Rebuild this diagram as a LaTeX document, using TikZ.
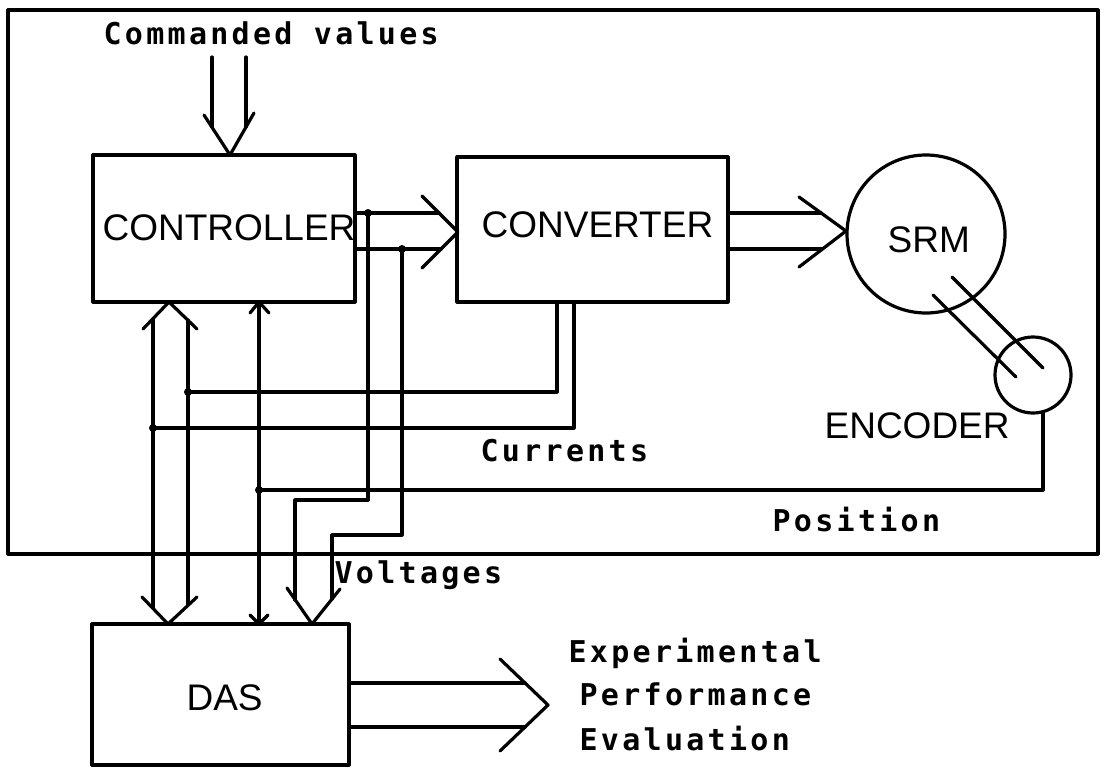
\documentclass[tikz,border=0pt]{standalone}
\usepackage{fontspec}
\newfontfamily\lblfont[LetterSpace=11]{DejaVu Sans Mono}
\newfontfamily\boxfont{Liberation Sans}
\begin{document}
\begin{tikzpicture}[x=1pt,y=-1pt, line width=3.2pt, line cap=round, line join=round,
  box/.style={draw, rectangle, inner sep=0pt, line width=3.2pt},
  ring/.style={draw, circle, inner sep=0pt, line width=3.2pt},
  boxlabel/.style={anchor=base west, inner sep=0pt, font={\boxfont\fontsize{37}{40}\selectfont}},
  sig/.style={anchor=base west, inner sep=0pt, font={\lblfont\bfseries\fontsize{30}{36}\selectfont}},
  wire/.style={line width=3.2pt},
  head/.style={line width=3.2pt},
  junction/.style={circle, fill, inner sep=0pt, minimum size=8pt}]
\fill[white] (0,0) rectangle (1105,768);
\useasboundingbox (0,0) rectangle (1105,768);

% blocks
\node[box, minimum width=1090pt, minimum height=544pt] (frame) at (553,282) {};
\node[box, minimum width=262pt, minimum height=147pt] (ctl) at (224,228.5) {};
\node[box, minimum width=271pt, minimum height=145pt] (cnv) at (592.5,229.5) {};
\node[box, minimum width=257pt, minimum height=141pt] (das) at (220.5,694.5) {};
\node[ring, minimum size=158pt] (srm) at (926,234) {};
\node[ring, minimum size=76pt] (enc) at (1033,375) {};

% labels
\node[boxlabel] (lctl) at (101,240) {CONTROLLER};
\node[boxlabel] (lcnv) at (480,237) {CONVERTER};
\node[boxlabel] (lsrm) at (886,252) {SRM};
\node[boxlabel] (lenc) at (823,438) {ENCODER};
\node[boxlabel] (ldas) at (185,710) {DAS};
\node[sig] (lcmd) at (102,45) {Commanded values};
\node[sig] (lcur) at (479,461) {Currents};
\node[sig] (lpos) at (771,531) {Position};
\node[sig] (lvol) at (333,583) {Voltages};
\node[sig] (lexp) at (567,662) {Experimental};
\node[sig] (lperf) at (578,705) {Performance};
\node[sig] (leval) at (578,750) {Evaluation};

% commanded values -> controller
\coordinate (cmdA) at (212,57);
\coordinate (cmdB) at (246,57);
\coordinate (cmdA2) at (212,127);
\coordinate (cmdB2) at (246,127);
\coordinate (cmdtip) at (230,155);
\coordinate (cmdwl) at (204,115);
\coordinate (cmdwr) at (254,113);
\draw[wire] (cmdA) -- (cmdA2);
\draw[wire] (cmdB) -- (cmdB2);
\draw[head] (cmdwl) -- (cmdtip) -- (cmdwr);

% controller -> converter
\coordinate (ccA) at (355,213);
\coordinate (ccB) at (355,249);
\coordinate (ccA2) at (439,213);
\coordinate (ccB2) at (441,249);
\coordinate (cctip) at (458,232);
\coordinate (ccwu) at (422,196);
\coordinate (ccwd) at (422,268);
\draw[wire] (ccA) -- (ccA2);
\draw[wire] (ccB) -- (ccB2);
\draw[head] (ccwu) -- (cctip) -- (ccwd);

% converter -> SRM
\coordinate (csA) at (728,213);
\coordinate (csB) at (728,249);
\coordinate (csA2) at (821,213);
\coordinate (csB2) at (822,249);
\coordinate (cstip) at (846,231);
\coordinate (cswu) at (799,197);
\coordinate (cswd) at (799,267);
\draw[wire] (csA) -- (csA2);
\draw[wire] (csB) -- (csB2);
\draw[head] (cswu) -- (cstip) -- (cswd);

% SRM - encoder shaft
\coordinate (shA1) at (933,295);
\coordinate (shA2) at (1016,377);
\coordinate (shB1) at (952,277);
\coordinate (shB2) at (1043,368);
\draw[wire] (shA1) -- (shA2);
\draw[wire] (shB1) -- (shB2);

% junctions
\node[junction] (jv1) at (368,213) {};
\node[junction] (jv2) at (402,249) {};
\node[junction] (jc1) at (188,392) {};
\node[junction] (jc2) at (153,428) {};
\node[junction] (jp) at (259,490) {};

% voltages wires
\coordinate (v1a) at (368,500);
\coordinate (v1b) at (295,500);
\coordinate (v1c) at (295,600);
\coordinate (v2a) at (402,535);
\coordinate (v2b) at (332,535);
\coordinate (v2c) at (332,599);
\draw[wire] (jv1.center) -- (v1a) -- (v1b) -- (v1c);
\draw[wire] (jv2.center) -- (v2a) -- (v2b) -- (v2c);
\coordinate (vtip) at (312,624);
\coordinate (vwl) at (287,588);
\coordinate (vwr) at (340,589);
\draw[head] (vwl) -- (vtip) -- (vwr);

% currents wires
\coordinate (c1s) at (557,302);
\coordinate (c1a) at (557,392);
\coordinate (c2s) at (574,302);
\coordinate (c2a) at (574,428);
\draw[wire] (c1s) -- (c1a) -- (jc1.center);
\draw[wire] (c2s) -- (c2a) -- (jc2.center);

% position wire
\coordinate (ps) at (1043,412);
\coordinate (pa) at (1043,490);
\draw[wire] (ps) -- (pa) -- (jp.center);

% double bus between controller and DAS
\coordinate (bLt) at (153,319);
\coordinate (bLb) at (153,608);
\coordinate (bRt) at (188,320);
\coordinate (bRb) at (188,605);
\draw[wire] (bLt) -- (bLb);
\draw[wire] (bRt) -- (bRb);
\coordinate (butip) at (169,302);
\coordinate (buwl) at (143,329);
\coordinate (buwr) at (197,329);
\draw[head] (buwl) -- (butip) -- (buwr);
\coordinate (bdtip) at (168,624);
\coordinate (bdwl) at (142,597);
\coordinate (bdwr) at (197,597);
\draw[head] (bdwl) -- (bdtip) -- (bdwr);

% single line controller <-> DAS
\coordinate (stop) at (259,302);
\coordinate (sbot) at (259,624);
\draw[wire] (stop) -- (sbot);
\coordinate (stwl) at (250,313);
\coordinate (stwr) at (269,313);
\draw[head] (stwl) -- (stop) -- (stwr);
\coordinate (sbwl) at (250,615);
\coordinate (sbwr) at (268,615);
\draw[head] (sbwl) -- (sbot) -- (sbwr);

% DAS output
\coordinate (doA) at (349,683);
\coordinate (doB) at (349,727);
\coordinate (doA2) at (525,683);
\coordinate (doB2) at (525,727);
\coordinate (dotip) at (548,705);
\coordinate (dowu) at (500,659);
\coordinate (dowd) at (500,751);
\draw[wire] (doA) -- (doA2);
\draw[wire] (doB) -- (doB2);
\draw[head] (dowu) -- (dotip) -- (dowd);
\end{tikzpicture}
\end{document}
